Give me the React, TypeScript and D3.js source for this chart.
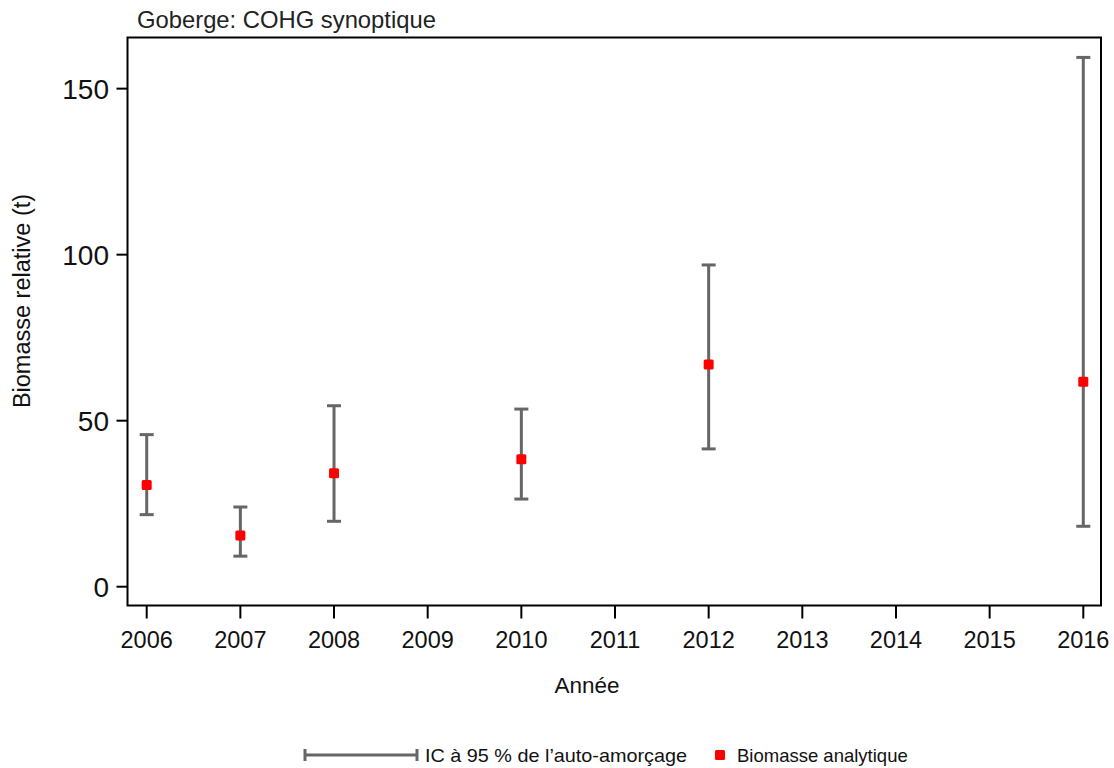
import * as d3 from 'd3'

const years = [2006, 2007, 2008, 2010, 2012, 2016]
const biomass = [30.6, 15.4, 34.2, 38.4, 66.9, 61.7]
const ciLow = [21.7, 9.2, 19.7, 26.4, 41.5, 18.2]
const ciHigh = [45.8, 24.0, 54.5, 53.5, 96.9, 159.4]
const xTicks = d3.range(2006, 2017)
const yTicks = [0, 50, 100, 150]

const W = 1114
const H = 768
const FONT = '"Liberation Sans", Arial, sans-serif'
const BAR = '#666666'

export default function App() {
  const left = 127.5
  const right = 1101
  const top = 37.5
  const bottom = 605.5

  const x = d3.scaleLinear().domain([2005.795, 2016.189]).range([left, right])
  const y = d3.scaleLinear().domain([-5.66, 165.4]).range([bottom, top])

  return (
    <svg width={W} height={H} style={{ position: 'absolute', left: 0, top: 0, background: '#fff' }} fontFamily={FONT}>
      <rect width={W} height={H} fill="#fff" />
      <text x={137} y={28} fontSize={23.8} fill="#222">Goberge: COHG synoptique</text>

      {/* y axis */}
      {yTicks.map((t) => (
        <g key={t}>
          <line x1={left - 11} x2={left} y1={y(t)} y2={y(t)} stroke="#000" strokeWidth={2} />
          <text x={109} y={y(t)} dy="0.36em" textAnchor="end" fontSize={28} fill="#111">{t}</text>
        </g>
      ))}
      <text transform={`translate(29.5,${(193 + 409) / 2}) rotate(-90)`} textAnchor="middle" fontSize={23.5} fill="#111">
        Biomasse relative (t)
      </text>

      {/* x axis */}
      {xTicks.map((t) => (
        <g key={t}>
          <line x1={x(t)} x2={x(t)} y1={bottom} y2={bottom + 13} stroke="#000" strokeWidth={2} />
          <text x={x(t)} y={648} textAnchor="middle" fontSize={23.5} fill="#111">{t}</text>
        </g>
      ))}
      <text x={587} y={693} textAnchor="middle" fontSize={22.5} fill="#111">Année</text>

      {/* error bars */}
      {years.map((yr, i) => (
        <g key={yr} stroke={BAR} strokeWidth={3}>
          <line x1={x(yr)} x2={x(yr)} y1={y(ciLow[i])} y2={y(ciHigh[i])} />
          <line x1={x(yr) - 7} x2={x(yr) + 7} y1={y(ciLow[i])} y2={y(ciLow[i])} />
          <line x1={x(yr) - 7} x2={x(yr) + 7} y1={y(ciHigh[i])} y2={y(ciHigh[i])} />
        </g>
      ))}
      {years.map((yr, i) => (
        <rect key={yr} x={x(yr) - 5} y={y(biomass[i]) - 5} width={10} height={10} rx={1.5} fill="#ff0000" />
      ))}

      {/* frame */}
      <rect x={left} y={top} width={right - left} height={bottom - top} fill="none" stroke="#000" strokeWidth={2} />

      {/* legend */}
      <g stroke={BAR} strokeWidth={3}>
        <line x1={305} x2={417} y1={755} y2={755} />
        <line x1={305} x2={305} y1={749} y2={761} />
        <line x1={417} x2={417} y1={749} y2={761} />
      </g>
      <text x={425} y={761.5} fontSize={19} textLength={262} lengthAdjust="spacingAndGlyphs" fill="#111">
        IC à 95 % de l’auto-amorçage
      </text>
      <rect x={715} y={750} width={10} height={10} rx={1.5} fill="#ff0000" />
      <text x={737} y={761.5} fontSize={18.5} fill="#111">Biomasse analytique</text>
    </svg>
  )
}
